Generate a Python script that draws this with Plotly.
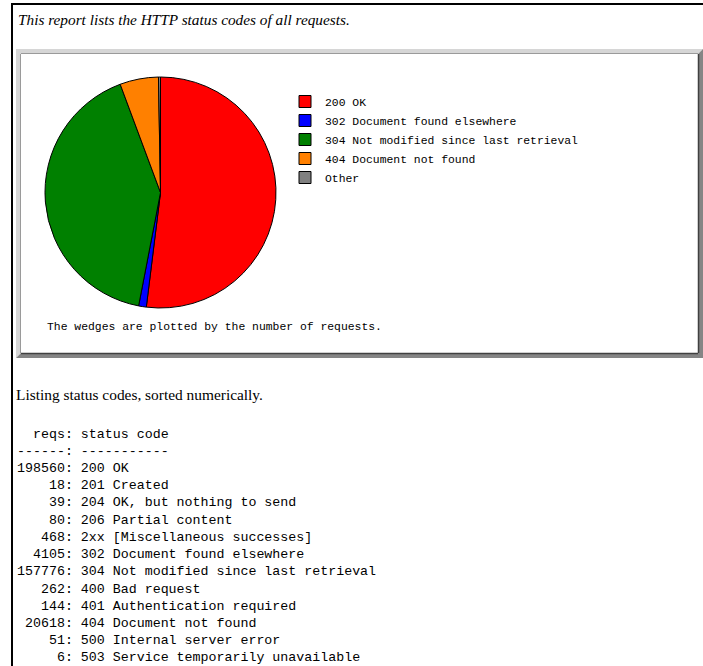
import plotly.graph_objects as go

W, H = 703, 666

# ---- data ----
table_reqs = [198560, 18, 39, 80, 468, 4105, 157776, 262, 144, 20618, 51, 6]
table_codes = [
    "200 OK",
    "201 Created",
    "204 OK, but nothing to send",
    "206 Partial content",
    "2xx [Miscellaneous successes]",
    "302 Document found elsewhere",
    "304 Not modified since last retrieval",
    "400 Bad request",
    "401 Authentication required",
    "404 Document not found",
    "500 Internal server error",
    "503 Service temporarily unavailable",
]
pie_labels = ["200 OK", "302 Document found elsewhere",
              "304 Not modified since last retrieval",
              "404 Document not found", "Other"]
pie_colors = ["#ff0000", "#0000ff", "#008000", "#ff8000", "#808080"]

named = {c: r for r, c in zip(table_reqs, table_codes)}
pie_values = [named[l] for l in pie_labels[:-1]]
pie_values.append(sum(table_reqs) - sum(pie_values))

title_text = "This report lists the HTTP status codes of all requests."
caption_text = "The wedges are plotted by the number of requests."
listing_text = "Listing status codes, sorted numerically."

# ---- figure ----
fig = go.Figure()
fig.add_trace(go.Pie(
    labels=pie_labels, values=pie_values, sort=False,
    direction="clockwise", rotation=0,
    marker=dict(colors=pie_colors, line=dict(color="#000000", width=1)),
    textinfo="none",
    domain=dict(x=[45 / W, 276 / W], y=[1 - 308 / H, 1 - 77 / H]),
))

shapes = []
# outer black frame
shapes.append(dict(type="line", x0=12, x1=12, y0=3, y1=H, line=dict(color="black", width=2)))
shapes.append(dict(type="line", x0=11, x1=W, y0=4, y1=4, line=dict(color="black", width=2)))

# beveled panel
L, T, R, B, bw = 16, 49, 703, 358, 5
shapes.append(dict(type="path", path=f"M{L},{T} L{R},{T} L{R-bw},{T+bw} L{L+bw},{T+bw} L{L+bw},{B-bw} L{L},{B} Z",
                   fillcolor="#d6d6d6", line=dict(width=0)))
shapes.append(dict(type="path", path=f"M{R},{T} L{R},{B} L{L},{B} L{L+bw},{B-bw} L{R-bw},{B-bw} L{R-bw},{T+bw} Z",
                   fillcolor="#858585", line=dict(width=0)))
shapes.append(dict(type="line", x0=L+bw, x1=R-bw, y0=T+bw-0.5, y1=T+bw-0.5, line=dict(color="#9a9a9a", width=1)))
shapes.append(dict(type="line", x0=L+bw-0.5, x1=L+bw-0.5, y0=T+bw, y1=B-bw, line=dict(color="#9a9a9a", width=1)))
shapes.append(dict(type="line", x0=L+bw, x1=R-bw, y0=B-bw+0.5, y1=B-bw+0.5, line=dict(color="#404040", width=1.5)))
shapes.append(dict(type="line", x0=R-bw+0.5, x1=R-bw+0.5, y0=T+bw, y1=B-bw, line=dict(color="#404040", width=1.5)))

annotations = []
annotations.append(dict(x=16, y=19, xref="x", yref="y", xanchor="left", yanchor="middle",
                        text=f"<i>{title_text}</i>", showarrow=False,
                        font=dict(family="Liberation Serif", size=15.3, color="#000")))
annotations.append(dict(x=45, y=327, xref="x", yref="y", xanchor="left", yanchor="middle",
                        text=caption_text, showarrow=False,
                        font=dict(family="Liberation Mono", size=11.4, color="#000")))
annotations.append(dict(x=14, y=394, xref="x", yref="y", xanchor="left", yanchor="middle",
                        text=listing_text, showarrow=False,
                        font=dict(family="Liberation Serif", size=15.4, color="#000")))

lines = ["  reqs: status code", "------: -----------"]
lines += [f"{r:>6}: {c}" for r, c in zip(table_reqs, table_codes)]
for i, ln in enumerate(lines):
    annotations.append(dict(x=15, y=434 + i * 17.23, xref="x", yref="y", xanchor="left", yanchor="middle",
                            text=ln.replace(" ", "\u00a0"), showarrow=False,
                            font=dict(family="Liberation Mono", size=13.3, color="#000")))

fig.update_layout(
    width=W, height=H, margin=dict(l=0, r=0, t=0, b=0),
    paper_bgcolor="white", plot_bgcolor="white",
    xaxis=dict(range=[0, W], visible=False, fixedrange=True),
    yaxis=dict(range=[H, 0], visible=False, fixedrange=True),
    shapes=shapes, annotations=annotations,
    showlegend=True,
    legend=dict(x=285 / W, y=1 - 87 / H, xanchor="left", yanchor="top",
                bgcolor="rgba(0,0,0,0)", borderwidth=0,
                font=dict(family="Liberation Mono", size=11.4, color="#000")),
)

fig.write_html("out.html", config={"displayModeBar": False},
               post_script="document.body.style.margin='0';document.body.style.overflow='hidden';")
